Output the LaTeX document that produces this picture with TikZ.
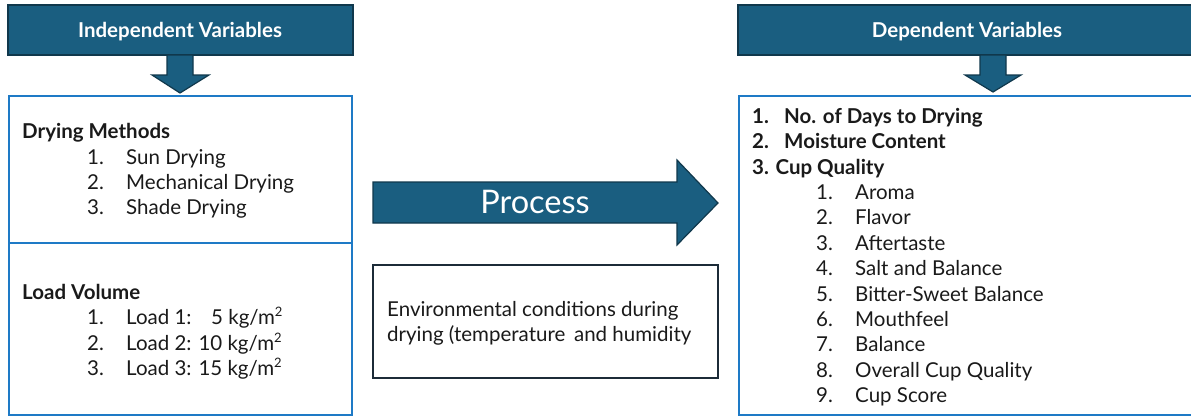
\documentclass[tikz,border=0pt]{standalone}
\usepackage{fontspec}
\setmainfont{Lato}
\usetikzlibrary{calc}
\definecolor{hdrfill}{HTML}{1A5E80}
\definecolor{hdrline}{HTML}{10384C}
\definecolor{boxblue}{HTML}{1E7AC6}
\definecolor{envline}{HTML}{1C2B38}
\definecolor{txt}{HTML}{1A1A1A}
\tikzset{
  hdr/.style={draw=hdrline, line width=1.5pt, fill=hdrfill},
  hdrtext/.style={text=white, font=\fontsize{20.5}{24}\selectfont\bfseries, inner sep=0pt, anchor=base},
  bluebox/.style={draw=boxblue, line width=2pt},
  envbox/.style={draw=envline, line width=1.8pt},
  arr/.style={draw=hdrline, line width=1.2pt, fill=hdrfill, line join=miter},
  item/.style={anchor=base west, inner sep=0pt, text=txt, font=\fontsize{20.5}{24}\selectfont},
  bitem/.style={anchor=base west, inner sep=0pt, text=txt, font=\fontsize{20.5}{24}\selectfont\bfseries},
  sup/.style={}
}
\newcommand{\sq}{\textsuperscript{\fontsize{13}{14}\selectfont 2}}
\begin{document}
\begin{tikzpicture}[x=1pt, y=-1pt]
\useasboundingbox (0,0) rectangle (1191,416);
\begin{scope}
\clip (0,0) rectangle (1191,416);
% headers
\draw[hdr] (8,5) rectangle (353,55);
\node[hdrtext] (ivh) at (180,37) {Independent Variables};
\draw[hdr] (738,5) rectangle (1210,55);
\node[hdrtext] (dvh) at (967,37) {Dependent Variables};
% down arrows
\draw[arr] (167,55) -- (193,55) -- (193,75) -- (209,75) -- (180,93) -- (152,75) -- (167,75) -- cycle;
\draw[arr] (980,55) -- (1006,55) -- (1006,75) -- (1021,75) -- (993,92) -- (965,75) -- (980,75) -- cycle;
% left box
\draw[bluebox] (9,96) rectangle (352,415);
\draw[bluebox] (9,243) -- (352,243);
% right box
\draw[bluebox] (739,96) rectangle (1210,415);
% process arrow
\draw[arr] (373,182) -- (677,182) -- (677,160) -- (718,203) -- (677,245) -- (677,223) -- (373,223) -- cycle;
\node[text=white, font=\fontsize{32.5}{36}\selectfont, inner sep=0pt, anchor=base] (proc) at (535,213) {Process};
% env box
\draw[envbox] (373,265) rectangle (718,378);
\end{scope}
\node[item] (env1) at (387,316) {Environmental conditions during};
\node[item] (env2) at (387,341) {drying (temperature\, and humidity};
% left contents
\node[bitem] (dm) at (22,138) {Drying Methods};
\node[item] (dm1n) at (87,164) {1.};
\node[item] (dm1) at (126,164) {Sun Drying};
\node[item] (dm2n) at (87,189) {2.};
\node[item] (dm2) at (126,189) {Mechanical Drying};
\node[item] (dm3n) at (87,214) {3.};
\node[item] (dm3) at (126,214) {Shade Drying};
\node[bitem] (lv) at (22,299) {Load Volume};
\node[item] (lv1n) at (87,324) {1.};
\node[item] (lv1) at (126,324) {Load 1:};
\node[item] (lv1v) at (211,324) {5 kg/m\sq};
\node[item] (lv2n) at (87,350) {2.};
\node[item] (lv2) at (126,350) {Load 2: 10 kg/m\sq};
\node[item] (lv3n) at (87,375) {3.};
\node[item] (lv3) at (126,375) {Load 3: 15 kg/m\sq};
% right contents
\node[bitem] (r1n) at (752,123) {1.};
\node[bitem] (r1) at (784,123) {No. of Days to Drying};
\node[bitem] (r2n) at (752,148) {2.};
\node[bitem] (r2) at (784,148) {Moisture Content};
\node[bitem] (r3) at (752,174) {3. Cup Quality};
\foreach \n/\t [count=\i] in {1/Aroma,2/Flavor,3/Aftertaste,4/Salt and Balance,5/Bitter-Sweet Balance,6/Mouthfeel,7/Balance,8/Overall Cup Quality,9/Cup Score}{
  \node[item] (cq\i n) at (816,{174+25.4*\i}) {\n.};
  \node[item] (cq\i) at (855,{174+25.4*\i}) {\t};
}
\end{tikzpicture}
\end{document}
